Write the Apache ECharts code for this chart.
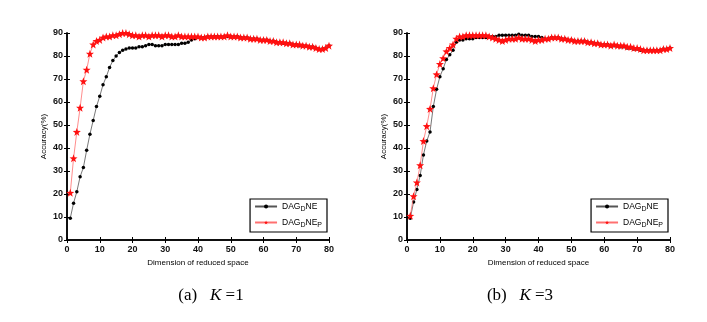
<!DOCTYPE html>
<html lang="en">
<head>
    <meta charset="UTF-8">
    <title>Accuracy vs dimension</title>
    <script type="text/javascript" src="https://cdn.jsdelivr.net/npm/echarts@6.0.0/dist/echarts.min.js"></script>
    <style type="text/css">
        html, body {
            margin: 0;
            padding: 0;
            background: #fff;
        }
        #echarts {
            width: 707px;
            height: 322px;
        }
    </style>
</head>
<body>
<div id="echarts"></div>

<script type="text/javascript">
    // dimension 1..80
    var dims = [];
    for (var d = 1; d <= 80; d++) dims.push(d);

    // (a) K = 1
    var blackK1 = [9.5, 16, 21, 27.5, 31.5, 39, 46, 52, 58, 62.5,
        67.5, 71, 75, 78, 80, 81.5, 82.5, 83, 83.5, 83.5,
        83.5, 84, 84, 84.5, 85, 85, 84.5, 84.5, 84.5, 85,
        85, 85, 85, 85, 85.5, 85.5, 86, 87, 87.5, 88,
        88, 88, 88.5, 88.5, 88.5, 88.5, 88.5, 88.5, 88.5, 88.5,
        88.5, 88.5, 88, 88, 88, 87.5, 87.5, 87.5, 87, 87,
        87, 86.5, 86.5, 86, 86, 85.5, 85.5, 85.5, 85, 85,
        84.5, 84.5, 84.5, 84, 84, 83.5, 83, 83, 83.5, 84.5];
    var redK1 = [20.5, 35.5, 47, 57.5, 69, 74, 81, 85, 86.5, 87,
        88, 88.5, 88.5, 89, 89, 89.5, 90, 90, 89.5, 89,
        89, 88.5, 89, 89, 88.5, 89, 89, 89, 88.5, 89,
        89, 88.5, 88.5, 89, 88.5, 88.5, 88.5, 88.5, 88.5, 88.5,
        88, 88, 88.5, 88.5, 88.5, 88.5, 88.5, 88.5, 89, 88.5,
        88.5, 88.5, 88, 88, 88, 87.5, 87.5, 87.5, 87, 87,
        87, 86.5, 86.5, 86, 86, 86, 85.5, 85.5, 85, 85,
        85, 84.5, 84.5, 84, 84, 83.5, 83, 83, 83.5, 84.5];

    // (b) K = 3
    var blackK3 = [9.5, 16.5, 22, 28, 37, 43, 47, 58, 65.5, 71,
        74.5, 78.5, 80.5, 82.5, 86, 87, 87, 87.5, 87.5, 87.5,
        88, 88, 88, 88, 88.5, 88.5, 88.5, 89, 89, 89,
        89, 89, 89, 89.5, 89, 89, 89, 88.5, 88.5, 88.5,
        88, 87.5, 87.5, 88, 88, 88, 87.5, 87.5, 87, 87,
        86.5, 86.5, 86.5, 86.5, 86, 86, 85.5, 85.5, 85, 85,
        85, 84.5, 84.5, 84.5, 84, 84, 83.5, 83.5, 83, 83,
        82.5, 82.5, 82.5, 82.5, 82.5, 82.5, 82.5, 83, 83, 83.5];
    var redK3 = [10.5, 19, 25, 32.5, 43, 49.5, 57, 66, 72, 76.5,
        79, 82, 83.5, 85, 87.5, 88.5, 88.5, 89, 89, 89,
        89, 89, 89, 89, 88.5, 88, 87.5, 87, 86.5, 87,
        87.5, 87.5, 87.5, 88, 87.5, 87.5, 87.5, 87, 86.5, 87,
        87, 87.5, 87.5, 88, 88, 88, 87.5, 87.5, 87, 87,
        86.5, 86.5, 86.5, 86.5, 86, 86, 85.5, 85.5, 85, 85,
        85, 84.5, 85, 84.5, 84.5, 84.5, 84, 84, 83.5, 83.5,
        83, 82.5, 82.5, 82.5, 82.5, 82.5, 82.5, 83, 83, 83.5];

    var captions = ['(a)', '(b)'];
    var kValues = [1, 3];

    var star = 'path://M0,-10 L2.4,-3.3 9.5,-3.1 3.9,1.3 5.9,8.1 0,4 -5.9,8.1 -3.9,1.3 -9.5,-3.1 -2.4,-3.3Z';

    var myChart = echarts.init(document.getElementById('echarts'));

    function pairs(ys) {
        return dims.map(function (x, i) { return [x, ys[i]]; });
    }

    var grids = [
        { left: 67, right: 378, top: 33, bottom: 82 },
        { left: 407, right: 37, top: 33, bottom: 82 }
    ];

    var labelStyle = { fontFamily: 'Arial', fontSize: 9, color: '#111', fontWeight: 'bold' };
    var lineStyleAxis = { color: '#000', width: 1.5 };

    var xAxes = [], yAxes = [];
    grids.forEach(function (g, i) {
        xAxes.push({
            gridIndex: i, type: 'value', min: 0, max: 80, interval: 10,
            name: 'Dimension of reduced space', nameLocation: 'middle', nameGap: 17,
            nameTextStyle: { fontFamily: 'Arial', fontSize: 8, color: '#000' },
            axisLine: { lineStyle: lineStyleAxis },
            axisTick: { inside: true, length: 3, lineStyle: { color: '#000' } },
            axisLabel: Object.assign({ margin: 5 }, labelStyle),
            splitLine: { show: false }
        });
        xAxes.push({
            gridIndex: i, type: 'value', min: 0, max: 80, interval: 10, position: 'top',
            axisLine: { lineStyle: lineStyleAxis },
            axisTick: { inside: true, length: 3, lineStyle: { color: '#000' } },
            axisLabel: { show: false }, splitLine: { show: false }
        });
        yAxes.push({
            gridIndex: i, type: 'value', min: 0, max: 90, interval: 10,
            name: 'Accuracy(%)', nameLocation: 'middle', nameGap: 19,
            nameTextStyle: { fontFamily: 'Arial', fontSize: 8, color: '#000' },
            axisLine: { lineStyle: lineStyleAxis },
            axisTick: { inside: true, length: 3, lineStyle: { color: '#000' } },
            axisLabel: Object.assign({ margin: 4 }, labelStyle),
            splitLine: { show: false }
        });
        yAxes.push({
            gridIndex: i, type: 'value', min: 0, max: 90, interval: 10, position: 'right',
            axisLine: { lineStyle: lineStyleAxis },
            axisTick: { inside: true, length: 3, lineStyle: { color: '#000' } },
            axisLabel: { show: false }, splitLine: { show: false }
        });
    });

    function blackSeries(name, ys, i) {
        return {
            name: name, type: 'line', xAxisIndex: i * 2, yAxisIndex: i * 2,
            data: pairs(ys), symbol: 'circle', symbolSize: 3.5, showAllSymbol: true,
            lineStyle: { color: '#555', width: 0.8 },
            itemStyle: { color: '#000' }, animation: false, z: 2
        };
    }
    function redSeries(name, ys, i) {
        return {
            name: name, type: 'line', xAxisIndex: i * 2, yAxisIndex: i * 2,
            data: pairs(ys), symbol: star, symbolSize: 8, showAllSymbol: true,
            lineStyle: { color: '#ff7070', width: 0.8 },
            itemStyle: { color: '#ff1010' }, animation: false, z: 3
        };
    }

    var nameB = ['DAG_D NE (a)', 'DAG_D NE (b)'];
    var nameR = ['DAG_D NE_P (a)', 'DAG_D NE_P (b)'];

    var richLeg = {
        a: { fontFamily: 'Arial', fontSize: 8.5, color: '#000' },
        s: { fontFamily: 'Arial', fontSize: 7, color: '#000', padding: [6, 0, 0, 0] }
    };
    function legendFmt(name) {
        return name.indexOf('_P') > 0 ? '{a|DAG}{s|D}{a|NE}{s|P}' : '{a|DAG}{s|D}{a|NE}';
    }

    var legends = [
        { right: 380, data: [nameB[0], nameR[0]] },
        { right: 39, data: [nameB[1], nameR[1]] }
    ].map(function (l) {
        return {
            right: l.right, top: 199, data: l.data, orient: 'vertical',
            itemWidth: 22, itemHeight: 5, itemGap: 5,
            padding: [3, 5, 3, 4], borderColor: '#000', borderWidth: 1.2,
            formatter: legendFmt, textStyle: { rich: richLeg }
        };
    });

    var titles = [206, 515].map(function (cx, i) {
        return {
            text: captions[i] + '   {i|K} =' + kValues[i],
            left: cx, top: 282, textAlign: 'center',
            textStyle: {
                fontFamily: 'Liberation Serif', fontSize: 17, fontWeight: 'normal', color: '#000',
                rich: { i: { fontFamily: 'Liberation Serif', fontStyle: 'italic', fontSize: 17, color: '#000' } }
            }
        };
    });

    var option = {
        backgroundColor: '#fff',
        animation: false,
        title: titles,
        legend: legends,
        grid: grids,
        xAxis: xAxes,
        yAxis: yAxes,
        series: [
            blackSeries(nameB[0], blackK1, 0),
            redSeries(nameR[0], redK1, 0),
            blackSeries(nameB[1], blackK3, 1),
            redSeries(nameR[1], redK3, 1)
        ]
    };
    myChart.setOption(option);
</script>

</body>
</html>
